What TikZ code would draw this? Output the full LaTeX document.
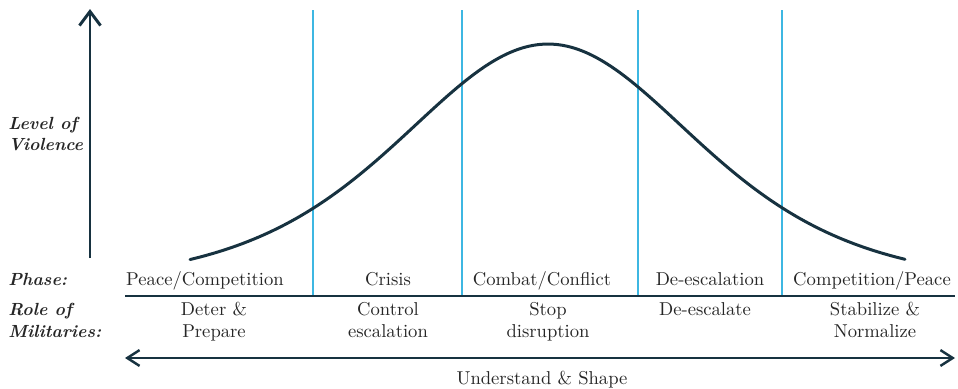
\documentclass[tikz,border=0pt]{standalone}
\usetikzlibrary{arrows.meta}
\definecolor{navy}{HTML}{173240}
\definecolor{phasecyan}{HTML}{3DB7E2}
\definecolor{txt}{HTML}{262626}

\begin{document}
\begin{tikzpicture}[x=0.02cm, y=-0.02cm, font=\fontsize{10.6}{12.5}\selectfont, text=txt,
    sidelabel/.style={anchor=base west, align=left, inner sep=0pt, font=\fontsize{10}{12.5}\selectfont\bfseries\itshape}]
    \useasboundingbox (0,0) rectangle (958,389);

    % Level of violence axis
    \coordinate (vbot) at (90,258);
    \coordinate (vtop) at (90,9);
    \draw[navy, line width=1.7pt, -{Straight Barb[length=8pt,width=12pt]}] (vbot) -- (vtop);
    \node[sidelabel, font=\fontsize{10}{11.5}\selectfont\bfseries\itshape] (level) at (8,150) {Level of\\Violence};

    % Phase boundaries
    \foreach \x in {313,462,638,782}
        \draw[phasecyan, line width=1.4pt] (\x,10) -- (\x,296);

    % Bell curve: sech^2 shape centred at 548
    \draw[navy, line width=1.7pt, line cap=round] plot[domain=190:905, samples=120, smooth]
        (\x, {285-241/(cosh((\x-548)/200))^2});

    % Phase row
    \coordinate (hl) at (125,296);
    \coordinate (hr) at (955,296);
    \draw[navy, line width=1.1pt] (hl) -- (hr);
    \node[sidelabel] (phase) at (8,285) {Phase:};
    \node[anchor=base] (ph1) at (205,285) {Peace/Competition};
    \node[anchor=base] (ph2) at (388,285) {Crisis};
    \node[anchor=base] (ph3) at (542,285) {Combat/Conflict};
    \node[anchor=base] (ph4) at (710,285) {De-escalation};
    \node[anchor=base] (ph5) at (872,285) {Competition/Peace};

    % Role row (base = last line)
    \node[sidelabel] (role) at (8,337) {Role of\\Militaries:};
    \node[anchor=base, align=center] (r1) at (214,337) {Deter \&\\Prepare};
    \node[anchor=base, align=center] (r2) at (388,337) {Control\\escalation};
    \node[anchor=base, align=center] (r3) at (548,337) {Stop\\disruption};
    \node[anchor=base, align=center] (r4) at (705,315) {De-escalate};
    \node[anchor=base, align=center] (r5) at (875,337) {Stabilize \&\\Normalize};

    % Understand & Shape runs through all phases
    \coordinate (ul) at (125,358);
    \coordinate (ur) at (955,358);
    \draw[navy, line width=1.4pt, {Straight Barb[length=7pt,width=9pt]}-{Straight Barb[length=7pt,width=9pt]}] (ul) -- (ur);
    \node[anchor=base] (shape) at (542,384) {Understand \& Shape};
\end{tikzpicture}
\end{document}
